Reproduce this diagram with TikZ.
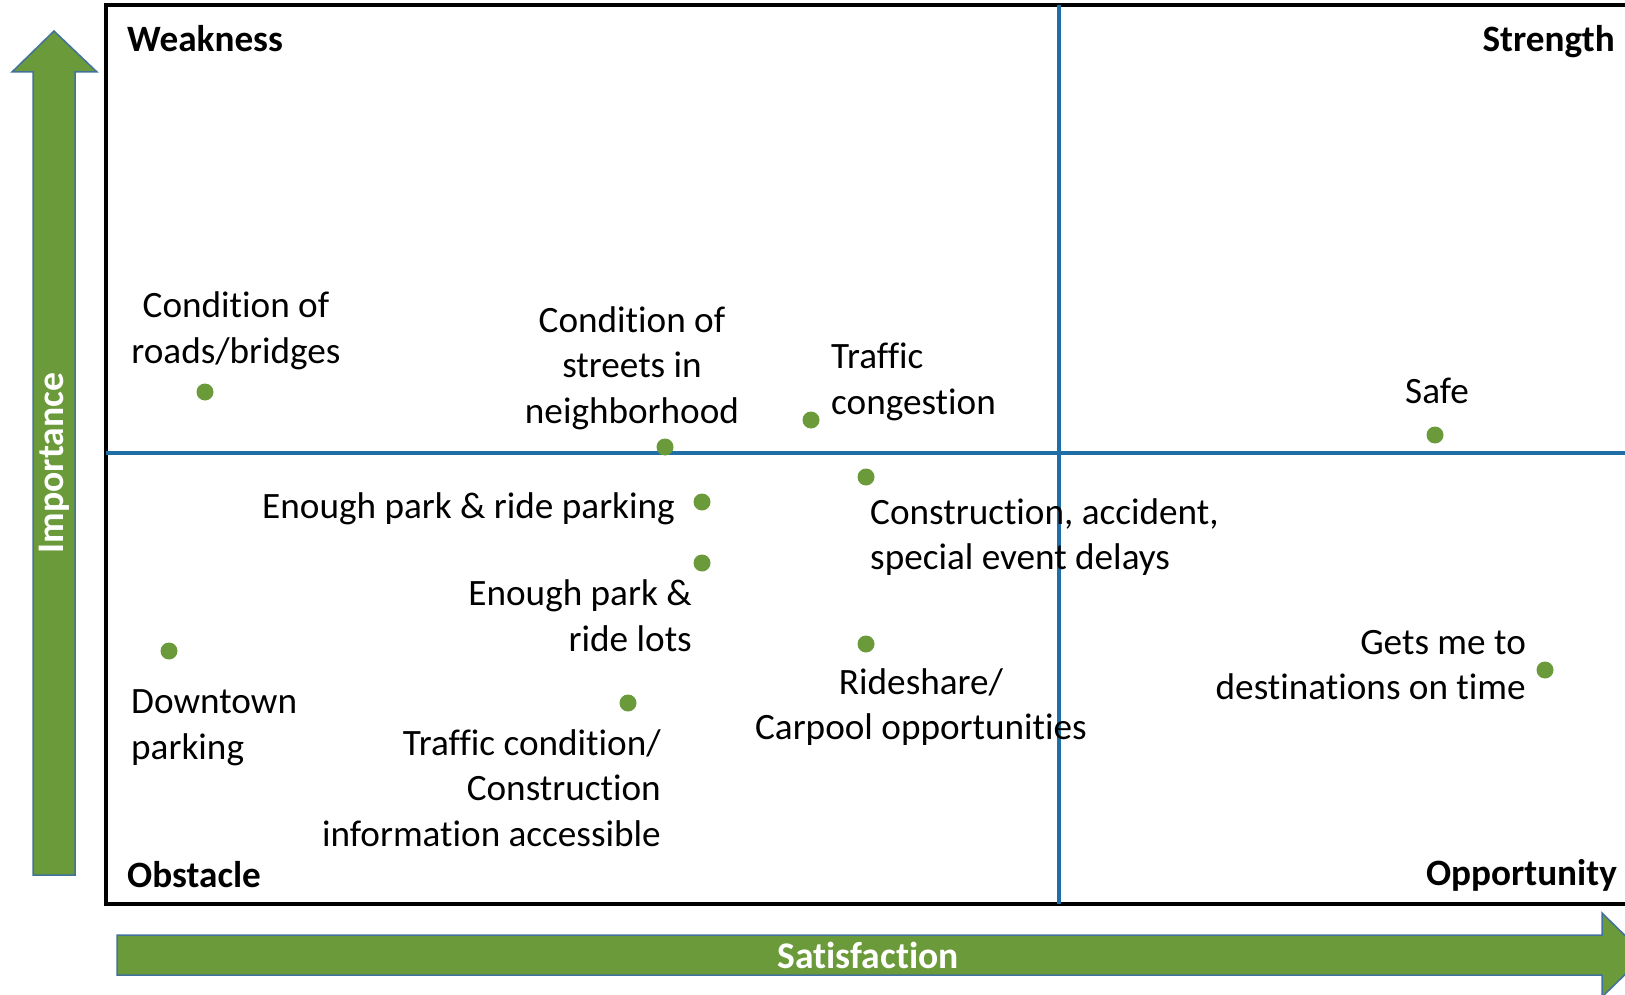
\documentclass[tikz,border=0pt]{standalone}
\usepackage{fontspec}
\setmainfont[Ligatures=NoCommon]{Carlito}
\definecolor{arrgreen}{HTML}{6A9A3A}
\definecolor{arredge}{HTML}{41719C}
\definecolor{quadblue}{HTML}{1F6EA6}

\begin{document}
\begin{tikzpicture}[x=1pt, y=-1pt,
every node/.style={inner sep=0pt, font=\fontsize{37.2}{45.6}\selectfont},
dot/.style={circle, fill=arrgreen, minimum size=17pt},
lbl/.style={align=center},
corner/.style={font=\fontsize{37.2}{45.6}\selectfont\bfseries},
axislbl/.style={text=white, font=\fontsize{37.6}{42}\selectfont\bfseries}
]
\useasboundingbox (0,0) rectangle (1625,995);

% axis arrows
\draw[fill=arrgreen, draw=arredge, line width=1.5pt]
    (33,875) -- (33,72) -- (12,72) -- (54,31) -- (97,72) -- (75,72) -- (75,875) -- cycle;
\draw[fill=arrgreen, draw=arredge, line width=1.5pt]
    (117,935) -- (1602,935) -- (1602,913) -- (1645,955) -- (1602,997) -- (1602,975) -- (117,975) -- cycle;
\node[axislbl, rotate=90] (imp) at (54,463) {Importance};
\node[axislbl] (sat) at (868,955) {Satisfaction};

% frame and quadrants
\draw[line width=3.8pt] (1640,5) -- (106,5) -- (106,904) -- (1640,904);
\coordinate (vtop) at (1059,5);
\coordinate (vbot) at (1059,904);
\coordinate (hleft) at (106,453);
\coordinate (hright) at (1625,453);
\draw[quadblue, line width=3.6pt] (vtop) -- (vbot) (hleft) -- (hright);

\node[corner, anchor=west] (weak) at (127,39) {Weakness};
\node[corner, anchor=east] (strong) at (1615,42) {Strength};
\node[corner, anchor=west] (obst) at (127,875) {Obstacle};
\node[corner, anchor=east] (opp) at (1617,875) {Opportunity};

% survey items
\foreach \n/\x/\y in {roads/205/392, streets/665/447, cong/811/420, safe/1435/435,
                      constr/866/477, prparking/702/502, prlots/702/563, downtown/169/651,
                      trinfo/628/703, rideshare/866/644, ontime/1545/670}
    \node[dot] (\n) at (\x,\y) {};

\node[lbl] (roadsl) at (236,331) {Condition of\\roads/bridges};
\node[lbl] (streetsl) at (632,368) {Condition of\\streets in\\neighborhood};
\node[lbl, align=left, anchor=west] (congl) at (831,382) {Traffic\\congestion};
\node[lbl] (safel) at (1437,391) {Safe};
\node[lbl, anchor=east] (prparkingl) at (675,509) {Enough park \& ride parking};
\node[lbl, align=left, anchor=west] (constrl) at (870,537) {Construction, accident,\\special event delays};
\node[lbl, align=right, anchor=east] (prlotsl) at (692,616) {Enough park \&\\ride lots};
\node[lbl, align=right, anchor=east] (ontimel) at (1526,665) {Gets me to\\destinations on time};
\node[lbl, align=left, anchor=west] (downtownl) at (131,728) {Downtown\\parking};
\node[lbl] (ridesharel) at (921,707) {Rideshare/\\Carpool opportunities};
\node[lbl, align=right, anchor=east] (trinfol) at (661,788) {Traffic condition/\\Construction\\information accessible};
\end{tikzpicture}
\end{document}
